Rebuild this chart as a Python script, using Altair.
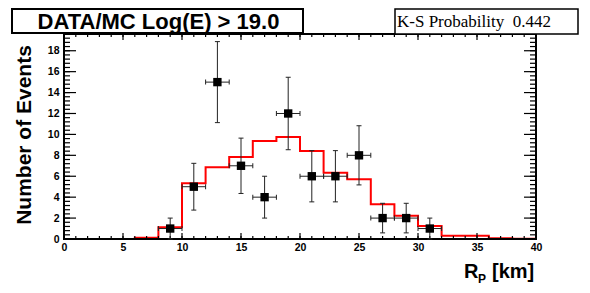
import altair as alt
import pandas as pd
import numpy as np

# ---- data ----
bin_edges = list(range(0, 42, 2))  # 0..40, bin width 2
mc_values = [0, 0, 0, 0.12, 1.12, 5.33, 6.85, 7.84, 9.37, 9.75,
             8.41, 6.34, 5.71, 3.32, 2.23, 1.24, 0.32, 0.32, 0.06, 0.02]
data_x = [9, 11, 13, 15, 17, 19, 21, 23, 25, 27, 29, 31]
data_n = [1, 5, 15, 7, 4, 12, 6, 6, 8, 2, 2, 1]
x_tick_labels = [0, 5, 10, 15, 20, 25, 30, 35, 40]
y_tick_labels = [0, 2, 4, 6, 8, 10, 12, 14, 16, 18]

title_text = "DATA/MC Log(E) > 19.0"
ks_text = "K-S Probability\u00a0 0.442"
y_title = "Number of Events"

W, H = 472, 205
SANS = "Liberation Sans"
xs = alt.Scale(domain=[0, 40], nice=False, zero=False)
ys = alt.Scale(domain=[0, 19.6], nice=False)
xaxis = alt.Axis(values=x_tick_labels, ticks=False, domain=False, grid=False, title=None,
                 labelFont=SANS, labelFontWeight="bold", labelFontSize=10.5,
                 labelPadding=3, labelFlush=False, labelColor="black")
yaxis = alt.Axis(values=y_tick_labels, ticks=False, domain=False, grid=False, title=None,
                 labelFont=SANS, labelFontWeight="bold", labelFontSize=10.5,
                 labelPadding=5, labelColor="black")


def X(f, **kw):
    return alt.X(f, scale=xs, axis=xaxis, **kw)


def Y(f, **kw):
    return alt.Y(f, scale=ys, axis=yaxis, **kw)


hist = pd.DataFrame({"edge": bin_edges, "v": mc_values + [mc_values[-1]]})
pts = pd.DataFrame({"x": data_x, "n": data_n})
pts["err"] = np.sqrt(pts["n"])
pts["lo"] = pts["n"] - pts["err"]
pts["hi"] = pts["n"] + pts["err"]
pts["xlo"] = pts["x"] - 1
pts["xhi"] = pts["x"] + 1

one = alt.Data(values=[{"a": 1}])

# frame
frame = alt.Chart(one).mark_rect(fill=None, stroke="black", strokeWidth=2).encode(
    x=alt.value(0), x2=alt.value(W), y=alt.value(0), y2=alt.value(H))

# ticks (axis decoration)
xmaj = pd.DataFrame({"t": list(range(0, 41, 5))})
xmin = pd.DataFrame({"t": list(range(0, 41, 1))})
ymaj = pd.DataFrame({"t": list(range(0, 20, 2))})
ymin = pd.DataFrame({"t": [round(i * 0.4, 2) for i in range(0, 49)]})


def xticks(df, ln):
    b = alt.Chart(df).mark_rule(color="black", strokeWidth=1.2).encode(
        x=X("t:Q"), y=alt.value(H), y2=alt.value(H - ln))
    t = alt.Chart(df).mark_rule(color="black", strokeWidth=1.2).encode(
        x=X("t:Q"), y=alt.value(0), y2=alt.value(ln))
    return b + t


def yticks(df, ln):
    l = alt.Chart(df).mark_rule(color="black", strokeWidth=1.2).encode(
        y=Y("t:Q"), x=alt.value(0), x2=alt.value(ln))
    r = alt.Chart(df).mark_rule(color="black", strokeWidth=1.2).encode(
        y=Y("t:Q"), x=alt.value(W), x2=alt.value(W - ln))
    return l + r


line = alt.Chart(hist).mark_line(color="#ff0000", strokeWidth=2, interpolate="step-after").encode(
    x=X("edge:Q"), y=Y("v:Q"))

ecol = "#222222"
verr = alt.Chart(pts).mark_rule(color=ecol, strokeWidth=1).encode(
    x=X("x:Q"), y=Y("lo:Q"), y2="hi:Q")
herr = alt.Chart(pts).mark_rule(color=ecol, strokeWidth=1).encode(
    x=X("xlo:Q"), x2="xhi:Q", y=Y("n:Q"))
cap_lo = alt.Chart(pts).mark_tick(orient="horizontal", size=5, thickness=1, color=ecol, opacity=1).encode(
    x=X("x:Q"), y=Y("lo:Q"))
cap_hi = alt.Chart(pts).mark_tick(orient="horizontal", size=5, thickness=1, color=ecol, opacity=1).encode(
    x=X("x:Q"), y=Y("hi:Q"))
cap_l = alt.Chart(pts).mark_tick(orient="vertical", size=5, thickness=1, color=ecol, opacity=1).encode(
    x=X("xlo:Q"), y=Y("n:Q"))
cap_r = alt.Chart(pts).mark_tick(orient="vertical", size=5, thickness=1, color=ecol, opacity=1).encode(
    x=X("xhi:Q"), y=Y("n:Q"))
squares = alt.Chart(pts).mark_square(size=70, color="black", opacity=1).encode(
    x=X("x:Q"), y=Y("n:Q"))

# title box
tbox = alt.Chart(one).mark_rect(fill="white", stroke="black", strokeWidth=2).encode(
    x=alt.value(-52), x2=alt.value(239), y=alt.value(-25), y2=alt.value(-1))
ttext = alt.Chart(one).mark_text(font=SANS, fontWeight="bold", fontSize=22, align="center",
                                 baseline="alphabetic", color="black").encode(
    x=alt.value(94.5), y=alt.value(-5.5), text=alt.value(title_text))

# K-S box
kbox = alt.Chart(one).mark_rect(fill="white", stroke="black", strokeWidth=1.5).encode(
    x=alt.value(331), x2=alt.value(514), y=alt.value(-25), y2=alt.value(0))
ktext = alt.Chart(one).mark_text(font="Liberation Serif", fontSize=17, align="left",
                                 baseline="alphabetic", color="black").encode(
    x=alt.value(333), y=alt.value(-7.3), text=alt.value(ks_text))

# axis titles
ytitle = alt.Chart(one).mark_text(font=SANS, fontWeight="bold", fontSize=21, angle=270,
                                  align="center", baseline="middle", color="black").encode(
    x=alt.value(-39), y=alt.value(101), text=alt.value(y_title))
xt_r = alt.Chart(one).mark_text(font=SANS, fontWeight="bold", fontSize=20, align="left",
                                baseline="alphabetic", color="black").encode(
    x=alt.value(400), y=alt.value(244), text=alt.value("R"))
xt_p = alt.Chart(one).mark_text(font=SANS, fontWeight="bold", fontSize=12, align="left",
                                baseline="alphabetic", color="black").encode(
    x=alt.value(414), y=alt.value(249), text=alt.value("P"))
xt_km = alt.Chart(one).mark_text(font=SANS, fontWeight="bold", fontSize=20, align="left",
                                 baseline="alphabetic", color="black").encode(
    x=alt.value(428), y=alt.value(244), text=alt.value("[km]"))

chart = alt.layer(
    line, frame,
    xticks(xmaj, 6), xticks(xmin, 3), yticks(ymaj, 12), yticks(ymin, 6),
    verr, herr, cap_lo, cap_hi, cap_l, cap_r, squares,
    tbox, ttext, kbox, ktext, ytitle, xt_r, xt_p, xt_km,
).properties(
    width=W, height=H,
    autosize=alt.AutoSizeParams(type="none"),
    padding={"left": 56, "top": 26, "right": 46, "bottom": 46},
    background="white",
).configure_view(stroke=None)

chart.save("out.html", embed_options={"renderer": "svg", "actions": False})
